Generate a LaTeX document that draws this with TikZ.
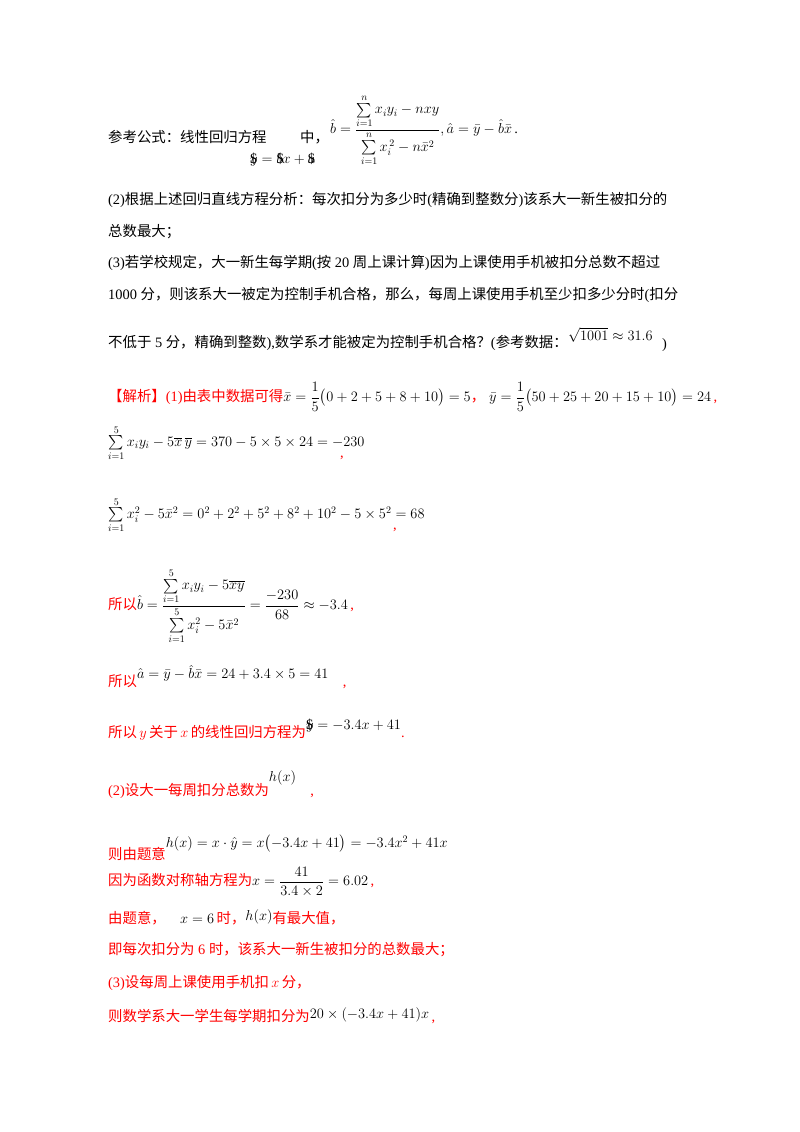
\documentclass[tikz,border=0pt]{standalone}
\usepackage{amsmath}
\usepackage{fontspec}
\setmainfont{Liberation Serif}
\newfontfamily\cjk{Noto Sans CJK SC}
\newcommand{\zh}[1]{{\cjk #1}}
\begin{document}
\begin{tikzpicture}[x=1pt,y=-1pt,
  txt/.style={anchor=west,inner sep=0pt,font=\fontsize{14.4}{17}\selectfont},
  rtxt/.style={txt,text=red}]
\useasboundingbox[fill=white] (0,0) rectangle (800,1132);
\node[txt] (l1) at (108,137) {\zh{参考公式：线性回归方程}};
\node[txt] (l1b) at (250,160) {$\rlap{\$}y=\rlap{\$}bx+\rlap{\$}a$};
\node[txt] (l1c) at (300,137) {\zh{中，}};
\node[txt] (l1d) at (330,130) {$\hat b=\dfrac{\sum\limits_{i=1}^{n}x_iy_i-nxy}{\sum\limits_{i=1}^{n}x_i^{\,2}-n\bar x^{2}},\hat a=\bar y-\hat b\bar x$\,.};
\node[txt] (l2) at (108,200) {(2)\zh{根据上述回归直线方程分析：每次扣分为多少时}(\zh{精确到整数分})\zh{该系大一新生被扣分的}};
\node[txt] (l3) at (108,232) {\zh{总数最大；}};
\node[txt] (l4) at (108,263) {(3)\zh{若学校规定，大一新生每学期}(\zh{按} 20 \zh{周上课计算})\zh{因为上课使用手机被扣分总数不超过}};
\node[txt] (l5) at (108,295) {1000 \zh{分，则该系大一被定为控制手机合格，那么，每周上课使用手机至少扣多少分时}(\zh{扣分}};
\node[txt] (l6) at (108,343) {\zh{不低于} 5 \zh{分，精确到整数}),\zh{数学系才能被定为控制手机合格？}(\zh{参考数据：}};
\node[txt] (l6b) at (568,335) {$\sqrt{1001}\approx31.6$};
\node[txt] (l6c) at (662,345) {)};
\node[rtxt] (s1) at (108,397) {\zh{【解析】}(1)\zh{由表中数据可得}\textcolor{black}{$\bar x=\dfrac15\bigl(0+2+5+8+10\bigr)=5$}\zh{，}\;\textcolor{black}{$\bar y=\dfrac15\bigl(50+25+20+15+10\bigr)=24$}\,,};
\node[txt] (s2) at (108,443) {$\sum\limits_{i=1}^{5}x_iy_i-5\overline{x}\,\overline{y}=370-5\times5\times24=-230$};
\node[rtxt] (s2c) at (340,458) {,};
\node[txt] (s3) at (108,515) {$\sum\limits_{i=1}^{5}x_i^2-5\bar x^{2}=0^2+2^2+5^2+8^2+10^2-5\times5^2=68$};
\node[rtxt] (s3c) at (393,530) {,};
\node[rtxt] (s4) at (108,606) {\zh{所以}\textcolor{black}{$\hat b=\dfrac{\sum\limits_{i=1}^{5}x_iy_i-5\overline{xy}}{\sum\limits_{i=1}^{5}x_i^2-5\bar x^{2}}=\dfrac{-230}{68}\approx-3.4$}\,,};
\node[rtxt] (s5) at (108,677) {\zh{所以}\raisebox{8pt}{\textcolor{black}{$\hat a=\bar y-\hat b\bar x=24+3.4\times5=41$}}\quad,};
\node[rtxt] (s6) at (108,730) {\zh{所以}\,$y$\,\zh{关于}\,$x$\,\zh{的线性回归方程为}\raisebox{8pt}{\textcolor{black}{$\rlap{\$}y=-3.4x+41$}}.};
\node[rtxt] (t1) at (108,785) {(2)\zh{设大一每周扣分总数为}\raisebox{14pt}{\textcolor{black}{$h(x)$}}\quad,};
\node[rtxt] (t2) at (108,848) {\zh{则由题意}\raisebox{12pt}{\textcolor{black}{$h(x)=x\cdot\hat y=x\bigl(-3.4x+41\bigr)=-3.4x^2+41x$}}};
\node[rtxt] (t3) at (108,882) {\zh{因为函数对称轴方程为}\textcolor{black}{$x=\dfrac{41}{3.4\times2}=6.02$}\,,};
\node[rtxt] (t4) at (108,917) {\zh{由题意，}\quad\textcolor{black}{$x=6$}\,\zh{时，}\raisebox{3pt}{\textcolor{black}{$h(x)$}}\zh{有最大值，}};
\node[rtxt] (t5) at (108,950) {\zh{即每次扣分为} 6 \zh{时，该系大一新生被扣分的总数最大；}};
\node[rtxt] (t6) at (108,983) {(3)\zh{设每周上课使用手机扣}\,$x$\,\zh{分，}};
\node[rtxt] (t7) at (108,1016) {\zh{则数学系大一学生每学期扣分为}\raisebox{3pt}{\textcolor{black}{$20\times(-3.4x+41)x$}}\,,};
\end{tikzpicture}
\end{document}
